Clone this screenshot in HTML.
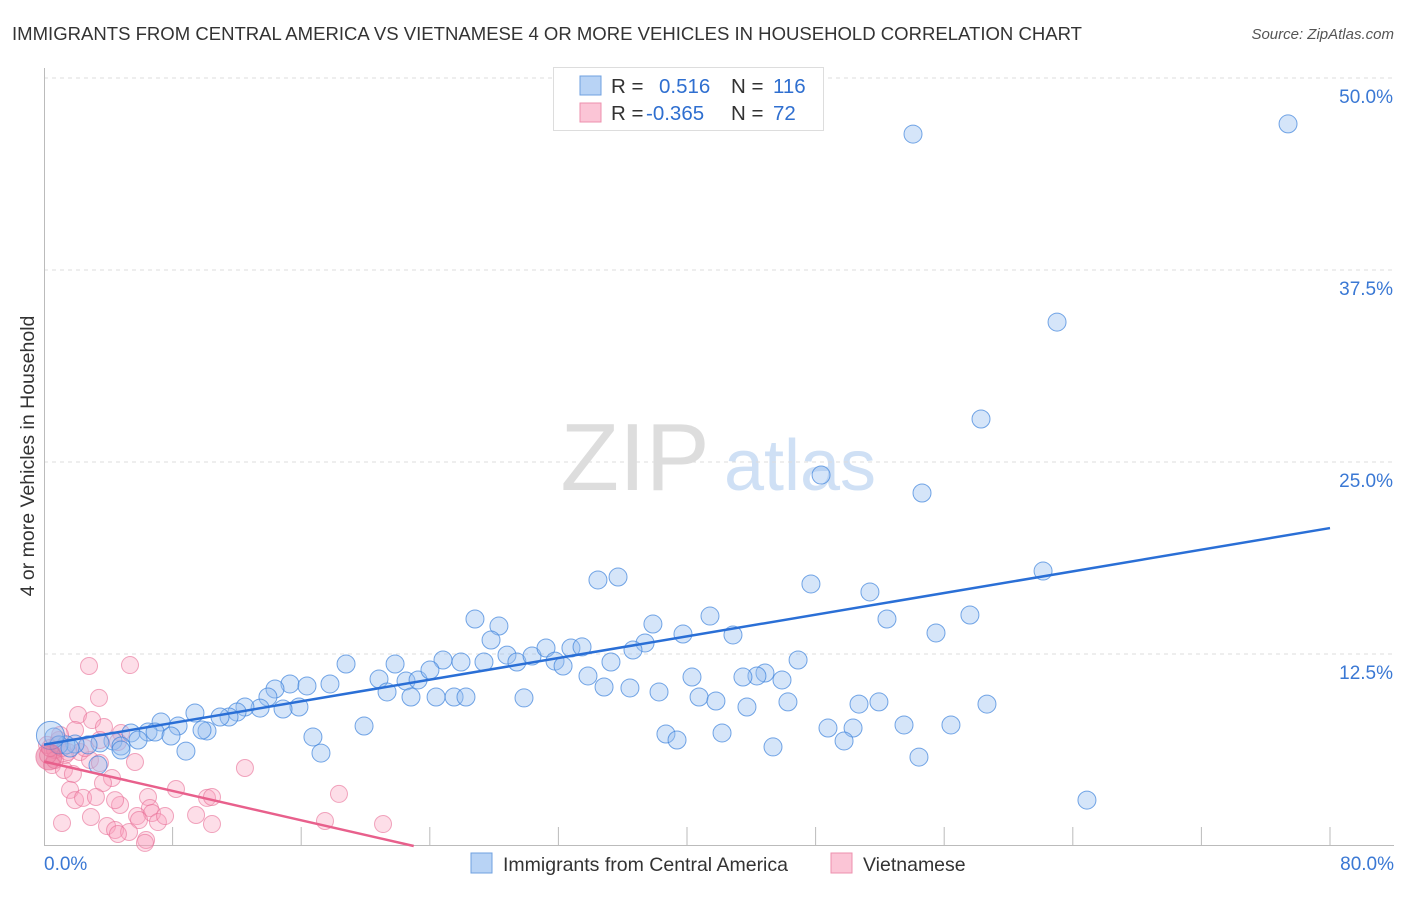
<!DOCTYPE html>
<html><head><meta charset="utf-8"><style>
body{margin:0;background:#fff;font-family:"Liberation Sans",sans-serif;}
svg text{font-family:"Liberation Sans",sans-serif;}
</style></head><body>
<svg id="chart" width="1406" height="892">
<text x="12" y="40" font-size="18.5" fill="#333" textLength="1070" lengthAdjust="spacingAndGlyphs">IMMIGRANTS FROM CENTRAL AMERICA VS VIETNAMESE 4 OR MORE VEHICLES IN HOUSEHOLD CORRELATION CHART</text>
<text x="1394" y="39" font-size="15" fill="#555" font-style="italic" text-anchor="end">Source: ZipAtlas.com</text>
<text x="34" y="456" font-size="19.5" fill="#333" text-anchor="middle" transform="rotate(-90 34 456)">4 or more Vehicles in Household</text>
<g><text x="635" y="490" font-size="96" fill="#ddd" font-family="Liberation Serif" text-anchor="middle">ZIP</text><text x="800" y="490" font-size="72" fill="#cfe0f5" text-anchor="middle">atlas</text></g>
<g id="grid"></g><g id="marks"></g>
<g>
<rect x="553.5" y="67.5" width="270" height="63" fill="#fff" stroke="#ddd"/>
<rect x="580" y="76" width="21" height="19" fill="#b8d3f5" stroke="#6fa0e0"/>
<rect x="580" y="103" width="21" height="19" fill="#fbc5d6" stroke="#ee90ae"/>
<text y="93" font-size="20.5" fill="#333"><tspan x="611">R =</tspan><tspan x="659" fill="#2f6fd0">0.516</tspan><tspan x="731">N =</tspan><tspan x="773" fill="#2f6fd0">116</tspan></text>
<text y="120" font-size="20.5" fill="#333"><tspan x="611">R =</tspan><tspan x="646" fill="#2f6fd0">-0.365</tspan><tspan x="731">N =</tspan><tspan x="773" fill="#2f6fd0">72</tspan></text>
</g>
<g>
<rect x="471" y="853" width="21" height="20" fill="#b8d3f5" stroke="#6fa0e0"/>
<text x="503" y="871" font-size="19.5" fill="#333">Immigrants from Central America</text>
<rect x="831" y="853" width="21" height="20" fill="#fbc5d6" stroke="#ee90ae"/>
<text x="863" y="871" font-size="19.5" fill="#333">Vietnamese</text>
</g>
</svg>
<script>
const yTicks=[12.5,25,37.5,50];
const yTickLabels=["12.5%","25.0%","37.5%","50.0%"];
const xTickLabels=["0.0%","80.0%"];
const blueTrend=[6.6,20.7];
const pinkTrend=[5.5,0];
const pinkTrendEnd=23;
const bluePx=[[913,134],[1288,124],[1057,322],[981,419],[821,475],[922,493],[1043,571],[598,580],[618,577],[811,584],[870,592],[475,619],[499,626],[491,640],[710,616],[653,624],[887,619],[970,615],[683,634],[733,635],[936,633],[645,643],[346,664],[395,664],[443,660],[461,662],[484,662],[507,655],[517,662],[532,656],[546,648],[555,661],[563,666],[571,648],[582,647],[611,662],[633,650],[798,660],[765,673],[757,676],[743,677],[782,680],[692,677],[588,676],[604,687],[630,688],[659,692],[699,697],[716,701],[379,679],[406,681],[418,680],[430,670],[330,684],[290,684],[275,689],[307,686],[387,692],[411,697],[436,697],[454,697],[466,697],[524,698],[788,702],[859,704],[879,702],[987,704],[747,707],[268,697],[260,708],[299,707],[283,709],[245,707],[237,712],[229,717],[220,717],[195,713],[161,722],[178,726],[207,731],[202,730],[148,732],[131,733],[155,732],[171,736],[138,740],[113,741],[121,746],[100,743],[88,745],[75,744],[66,745],[54,737],[59,745],[70,748],[364,726],[313,737],[321,753],[186,751],[828,728],[853,728],[904,725],[951,725],[666,734],[677,740],[722,733],[844,741],[773,747],[919,757],[1087,800],[98,765],[121,750]];
const pinkPx=[[89,666],[130,665],[99,698],[78,715],[92,720],[104,727],[75,730],[121,733],[59,740],[47,745],[55,750],[65,755],[80,752],[118,742],[135,762],[245,768],[52,765],[64,770],[73,774],[90,760],[100,763],[112,778],[103,783],[70,790],[75,800],[83,798],[96,797],[120,805],[115,800],[148,797],[176,789],[207,798],[212,797],[150,808],[137,816],[152,813],[158,822],[139,820],[196,815],[165,816],[212,824],[62,823],[91,817],[107,826],[115,830],[129,832],[118,834],[146,840],[145,843],[339,794],[325,821],[383,824],[55,760],[48,755],[57,745],[62,748],[68,752],[50,748],[85,748],[60,735],[100,740]];
// convert read pixel estimates to data values (percent)
const blueX=bluePx.map(p=>+((p[0]-44)/16.075).toFixed(2));
const blueY=bluePx.map(p=>+((846-p[1])/15.36).toFixed(2));
const pinkX=pinkPx.map(p=>+((p[0]-44)/16.075).toFixed(2));
const pinkY=pinkPx.map(p=>+((846-p[1])/15.36).toFixed(2));

const X=v=>44+v*16.075, Y=v=>846-v*15.36;
const NS="http://www.w3.org/2000/svg";
const grid=document.getElementById('grid'), marks=document.getElementById('marks');
function mk(tag,attrs,parent){const e=document.createElementNS(NS,tag);for(const k in attrs)e.setAttribute(k,attrs[k]);parent.appendChild(e);return e;}
yTicks.forEach((t,i)=>{
  const g=mk('line',{x1:44,x2:1394,y1:Y(t),y2:Y(t),stroke:'#ddd','stroke-dasharray':'4 4'},grid);
  
  
  const l=mk('text',{x:1393,y:Y(t)+25,'font-size':19,fill:'#3a78d4','text-anchor':'end'},grid);
  l.textContent=yTickLabels[i];
  
  
});
const ax=mk('path',{d:'M44.5 68V845.5H1394',stroke:'#bbb',fill:'none'},grid);


for(let i=1;i<=10;i++){const t=mk('line',{x1:X(i*8),x2:X(i*8),y1:827,y2:845,stroke:'#bbb'},grid);

}
[[44,'start',0],[1394,'end',1]].forEach(a=>{const t=mk('text',{x:a[0],y:870,'font-size':19,fill:'#3a78d4','text-anchor':a[1]},grid);t.textContent=xTickLabels[a[2]];

});
pinkX.forEach((x,i)=>{const c=mk('circle',{cx:X(x),cy:Y(pinkY[i]),r:8.5,fill:'rgba(248,160,188,0.35)',stroke:'rgba(232,110,150,0.6)'},marks);

});
blueX.forEach((x,i)=>{const c=mk('circle',{cx:X(x),cy:Y(blueY[i]),r:9,fill:'rgba(150,190,240,0.4)',stroke:'rgba(60,130,220,0.7)'},marks);

});
const big=mk('circle',{cx:X(0.4),cy:Y(7.2),r:14,fill:'rgba(150,190,240,0.4)',stroke:'rgba(60,130,220,0.7)'},marks);


const bigp=mk('circle',{cx:X(0.3),cy:Y(5.8),r:13,fill:'rgba(230,110,150,0.5)',stroke:'rgba(232,110,150,0.6)'},marks);


const bl=mk('line',{x1:X(0),y1:Y(blueTrend[0]),x2:X(80),y2:Y(blueTrend[1]),stroke:'#2a6fd6','stroke-width':2.5},marks);


const pl=mk('line',{x1:X(0),y1:Y(pinkTrend[0]),x2:X(pinkTrendEnd),y2:Y(pinkTrend[1]),stroke:'#e8608c','stroke-width':2.5},marks);


</script>
</body></html>
